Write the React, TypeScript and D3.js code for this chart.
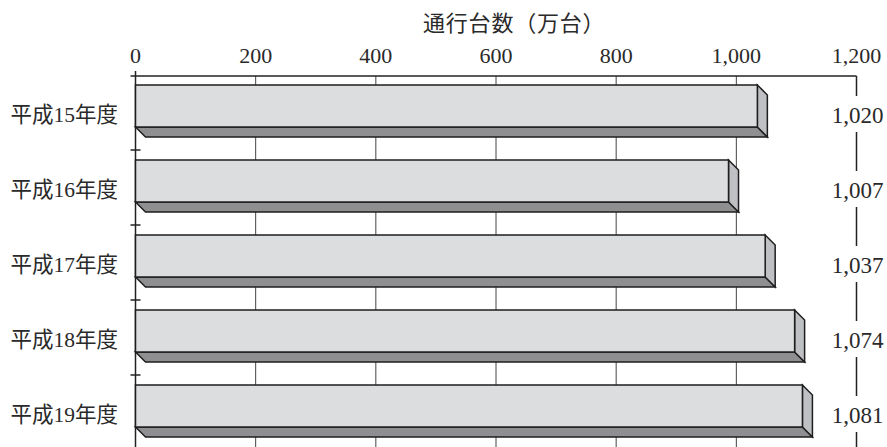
import React from "react";
import * as d3 from "d3";

const categories = ["平成15年度", "平成16年度", "平成17年度", "平成18年度", "平成19年度"];
// values printed at the right
const printedValues = [1020, 1007, 1037, 1074, 1081];
// bar lengths as drawn in the picture (万台)
const barLengths = [1035, 987, 1048, 1097, 1110];
const xTicks = [0, 200, 400, 600, 800, 1000, 1200];
const axisTitle = "通行台数（万台）";

const W = 887;
const H = 447;
const FONT = "'Liberation Serif', 'Noto Sans CJK JP', serif";

export default function App() {
  const x = d3.scaleLinear().domain([0, 1200]).range([135.5, 856.5]);
  const y = d3.scaleBand<string>().domain(categories).range([75, 450]).padding(0);
  const axisY = 76;
  const depth = 10;
  const fmt = d3.format(",");
  const x0 = x(0);
  const xMax = x(1200);

  return (
    <svg width={W} height={H} style={{ position: "absolute", left: 0, top: 0, background: "#fff" }}>
      <rect x={0} y={0} width={W} height={H} fill="#fff" />
      {/* title */}
      <text x={423} y={31} textAnchor="start" fontFamily={FONT} fontSize={22} letterSpacing={0.8} fill="#2a2a2a">
        {axisTitle}
      </text>
      {/* tick labels */}
      {xTicks.map((t) => (
        <text key={t} x={x(t)} y={63} textAnchor="middle" fontFamily={FONT} fontSize={22} fill="#2a2a2a">
          {fmt(t)}
        </text>
      ))}
      {/* gridlines */}
      {xTicks.slice(1, -1).map((t) => (
        <line key={t} x1={x(t)} x2={x(t)} y1={axisY} y2={H} stroke="#444" strokeWidth={1} />
      ))}
      {/* right axis */}
      <line x1={xMax} x2={xMax} y1={axisY} y2={H} stroke="#222" strokeWidth={1.5} />
      {/* top axis */}
      <line x1={x0 - 5} x2={xMax} y1={axisY} y2={axisY} stroke="#222" strokeWidth={1.5} />
      {/* left axis */}
      <line x1={x0} x2={x0} y1={axisY - 5} y2={H} stroke="#222" strokeWidth={1.5} />
      {/* left ticks at band boundaries */}
      {categories.slice(1).map((c) => (
        <line key={c} x1={x0 - 5} x2={x0 + 5} y1={y(c)!} y2={y(c)!} stroke="#222" strokeWidth={1.5} />
      ))}
      {/* bars */}
      {categories.map((c, i) => {
        const top = y(c)! + 10;
        const bot = y(c)! + 52;
        const xe = x(barLengths[i]);
        const bottomFace = `${x0},${bot} ${x0 + depth},${bot + depth} ${xe + depth},${bot + depth} ${xe},${bot}`;
        const sideFace = `${xe},${top} ${xe + depth},${top + depth} ${xe + depth},${bot + depth} ${xe},${bot}`;
        return (
          <g key={c} stroke="#1e1e1e" strokeWidth={1.5} strokeLinejoin="miter">
            <polygon points={bottomFace} fill="#8f8f92" />
            <polygon points={sideFace} fill="#bfc0c3" />
            <rect x={x0} y={top} width={xe - x0} height={bot - top} fill="#dcdddf" />
          </g>
        );
      })}
      {/* category labels */}
      {categories.map((c) => (
        <text key={c} x={118} y={y(c)! + 47} textAnchor="end" fontFamily={FONT} fontSize={21.5} fill="#2a2a2a">
          {c}
        </text>
      ))}
      {/* right value labels */}
      {categories.map((c, i) => {
        const cy = y(c)! + 39;
        return (
          <g key={c}>
            <rect x={xMax - 28} y={cy - 18} width={56} height={36} fill="#fff" />
            <text x={xMax + 1} y={cy + 9} textAnchor="middle" fontFamily={FONT} fontSize={23} fill="#2a2a2a">
              {fmt(printedValues[i])}
            </text>
          </g>
        );
      })}
    </svg>
  );
}
